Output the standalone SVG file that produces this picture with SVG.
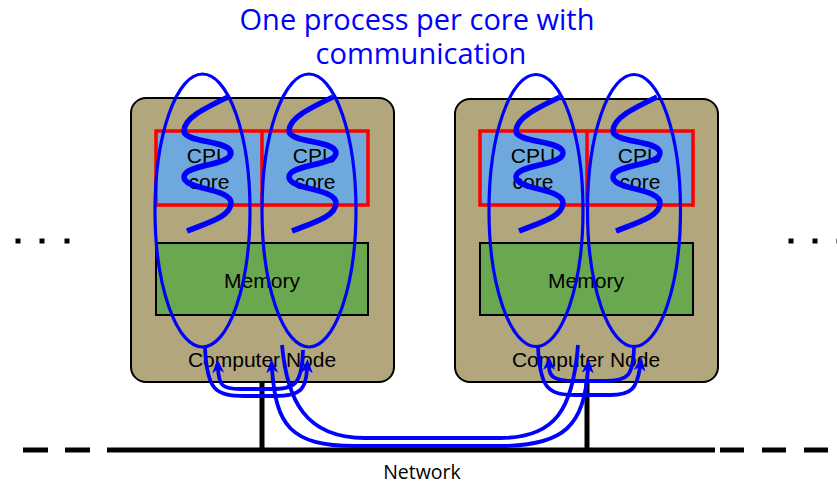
<svg xmlns="http://www.w3.org/2000/svg" width="837" height="485" viewBox="0 0 837 485">
<style>
.node{fill:#b2a67d;stroke:#000;stroke-width:2}
.cpu{fill:#6fa8dc;stroke:#ff0000;stroke-width:3.5}
.mem{fill:#6aa84f;stroke:#000;stroke-width:2}
.lbl{font-family:"Liberation Sans",Arial,sans-serif;font-size:21px;fill:#000;text-anchor:middle}
.title{font-family:"Open Sans","Noto Sans",sans-serif;font-size:29px;fill:#0000ff;text-anchor:middle}
.net{font-family:"Open Sans","Noto Sans",sans-serif;font-size:19.5px;fill:#000;text-anchor:middle}
.proc{fill:none;stroke:#0000ff;stroke-width:3.2}
.wave{fill:none;stroke:#0000ff;stroke-width:5.5}
.msg{fill:none;stroke:#0000ff;stroke-width:3.8}
.wire{fill:none;stroke:#000;stroke-width:5}
</style>
<defs>
<marker id="ah" markerUnits="userSpaceOnUse" markerWidth="14" markerHeight="12" viewBox="0 0 14 12" refX="4" refY="6" orient="auto-start-reverse">
<path d="M0,0 L14,6 L0,12 L4,6 z" fill="#0000ff"/>
</marker>
<path id="sq" d="M44,97 C21,108 0,118 0,131 C0,143 47,140 47,153 C47,166 0,164 0,177 C0,190 47,188 47,203 C47,216 26,222 3,231"/>
</defs>

<text class="title"><tspan x="417" y="30">One process per core with</tspan><tspan x="421" y="64">communication</tspan></text>

<g id="network">
<path class="wire" d="M132,450 H715"/>
<path class="wire" d="M23,450 H48 M65,450 H90 M107,450 H132"/>
<path class="wire" d="M720,450 H744 M762,450 H786 M804,450 H828"/>
<path class="wire" d="M262,382 V450 M587,382 V450"/>
<text class="net" x="422" y="479">Network</text>
</g>

<g id="dots-left" fill="#000">
<rect x="15.5" y="238.5" width="5" height="5"/>
<rect x="39.5" y="238.5" width="5" height="5"/>
<rect x="64.5" y="238.5" width="5" height="5"/>
</g>
<g id="dots-right" fill="#000">
<rect x="788.5" y="238.5" width="5" height="5"/>
<rect x="812.5" y="238.5" width="5" height="5"/>
<rect x="836.5" y="238.5" width="5" height="5"/>
</g>

<g id="node-left">
<rect class="node" x="131" y="98" width="263" height="284" rx="15"/>
<rect class="cpu" x="156" y="131" width="212" height="74"/>
<line x1="262" y1="131" x2="262" y2="205" stroke="#ff0000" stroke-width="3.5"/>
<rect class="mem" x="156" y="243" width="212" height="72"/>
<text class="lbl" x="209" y="163">CPU</text>
<text class="lbl" x="209" y="189">core</text>
<text class="lbl" x="315" y="163">CPU</text>
<text class="lbl" x="315" y="189">core</text>
<text class="lbl" x="262" y="288">Memory</text>
<text class="lbl" x="262" y="367">Computer Node</text>
</g>

<g id="node-right">
<rect class="node" x="455" y="99" width="263" height="283" rx="15"/>
<rect class="cpu" x="480" y="131" width="213" height="74"/>
<line x1="587" y1="131" x2="587" y2="205" stroke="#ff0000" stroke-width="3.5"/>
<rect class="mem" x="480" y="243" width="213" height="72"/>
<text class="lbl" x="533" y="163">CPU</text>
<text class="lbl" x="533" y="189">core</text>
<text class="lbl" x="640" y="163">CPU</text>
<text class="lbl" x="640" y="189">core</text>
<text class="lbl" x="586" y="288">Memory</text>
<text class="lbl" x="586" y="367">Computer Node</text>
</g>

<g id="process-left-1">
<ellipse class="proc" cx="202.5" cy="210.5" rx="47.5" ry="136.5"/>
<use href="#sq" class="wave" transform="translate(184,0)"/>
</g>
<g id="process-left-2">
<ellipse class="proc" cx="309" cy="210.5" rx="47" ry="136.5"/>
<use href="#sq" class="wave" transform="translate(289,0)"/>
</g>
<g id="process-right-1">
<ellipse class="proc" cx="536" cy="210.5" rx="47" ry="136"/>
<use href="#sq" class="wave" transform="translate(516,0)"/>
</g>
<g id="process-right-2">
<ellipse class="proc" cx="634" cy="210.5" rx="46.5" ry="136"/>
<use href="#sq" class="wave" transform="translate(613,0)"/>
</g>

<g id="connectors">
<path class="msg" d="M205,348 C207,390 215,396 245,396 L275,396 C302,396 306,388 307,369" marker-end="url(#ah)"/>
<path class="msg" d="M303,350 C302,385 295,389 270,389 L240,389 C222,389 219,385 218,369" marker-end="url(#ah)"/>
<path class="msg" d="M272,369 C276,425 290,446 355,446 L500,446 C565,446 584,425 588,369" marker-start="url(#ah)" marker-end="url(#ah)"/>
<path class="msg" d="M282,345 C287,400 305,438 365,438 L500,438 C555,438 573,410 578,345"/>
<path class="msg" d="M538,347 C540,388 548,395 575,395 L610,395 C632,395 637,388 640,367" marker-end="url(#ah)"/>
<path class="msg" d="M634,348 C633,376 628,381 605,381 L575,381 C553,381 549,376 549,366" marker-end="url(#ah)"/>
</g>
</svg>
